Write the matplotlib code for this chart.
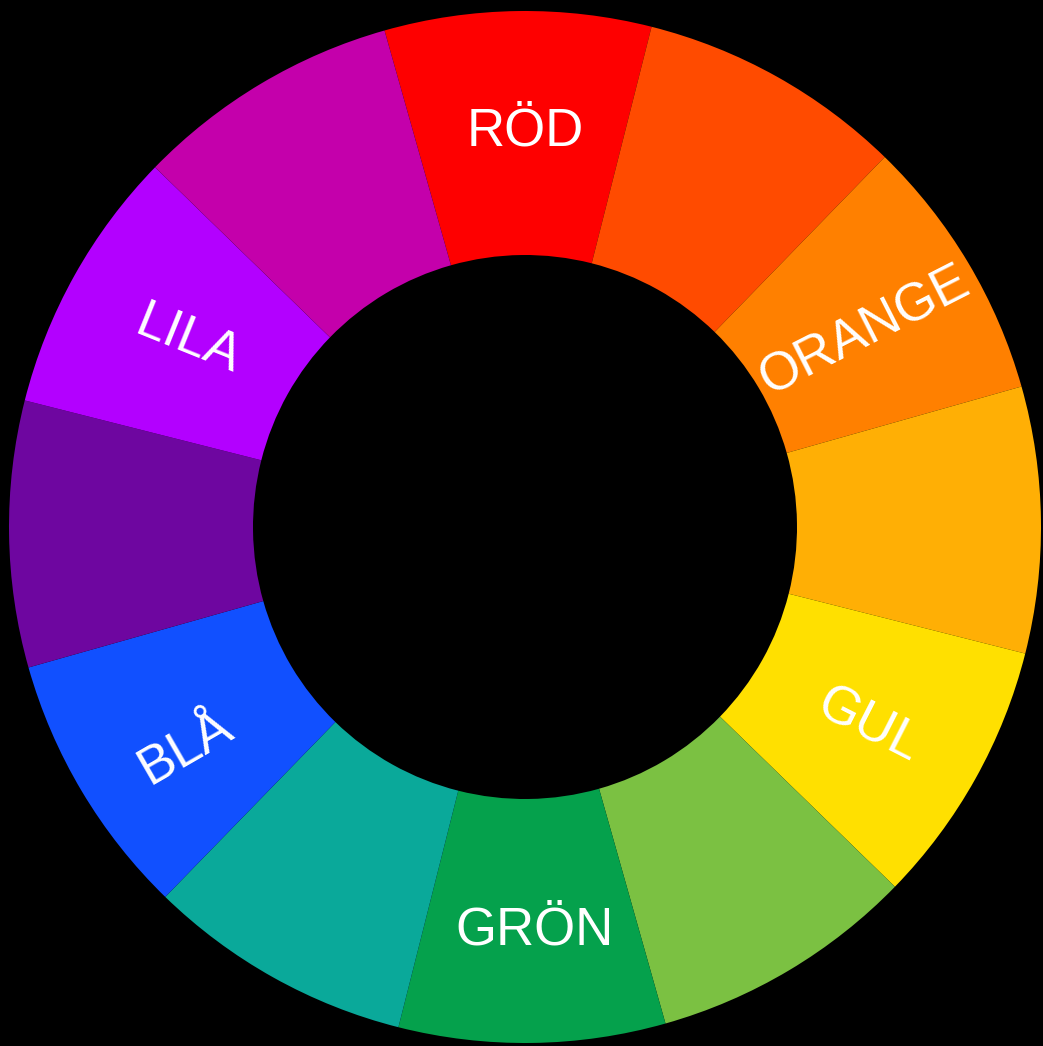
import matplotlib
matplotlib.use("Agg")
import matplotlib.pyplot as plt
import numpy as np

# 12 lika stora sektorer, medurs från toppen
sectors = [1] * 12
colors = ["#FE0000", "#FF4B00", "#FF8000", "#FFAF05", "#FFE000", "#7BC142",
          "#05A14C", "#0AA99A", "#1150FF", "#6E06A0", "#B300FF", "#C400AB"]

labels = ["RÖD", "ORANGE", "GUL", "GRÖN", "BLÅ", "LILA"]
label_angles = [90, 30, -30, -88.6, -147, 151]
label_radius = [396, 392, 397, 404, 405, 385]
label_rot = [0, 27, -27, 0, 30, -22]

W, H = 1043, 1046
cx, cy = 525, H - 527

fig = plt.figure(figsize=(W / 100, H / 100), dpi=100, facecolor="black")
ax = fig.add_axes([0, 0, 1, 1])
ax.set_facecolor("black")

ax.pie(sectors, colors=colors, startangle=105.8, counterclock=False,
       center=(cx, cy), radius=516, frame=True,
       wedgeprops=dict(width=516 - 272, linewidth=0))
ax.set_xlim(0, W)
ax.set_ylim(0, H)
ax.set_aspect("equal")
ax.axis("off")

for lab, a, r, rot in zip(labels, label_angles, label_radius, label_rot):
    x = cx + r * np.cos(np.radians(a))
    y = cy + r * np.sin(np.radians(a))
    ax.text(x, y, lab, color="white", fontsize=38, rotation=rot,
            ha="center", va="center", family=["Liberation Sans", "DejaVu Sans"],
            rotation_mode="anchor")

fig.savefig("out.png", dpi=100, facecolor="black")
